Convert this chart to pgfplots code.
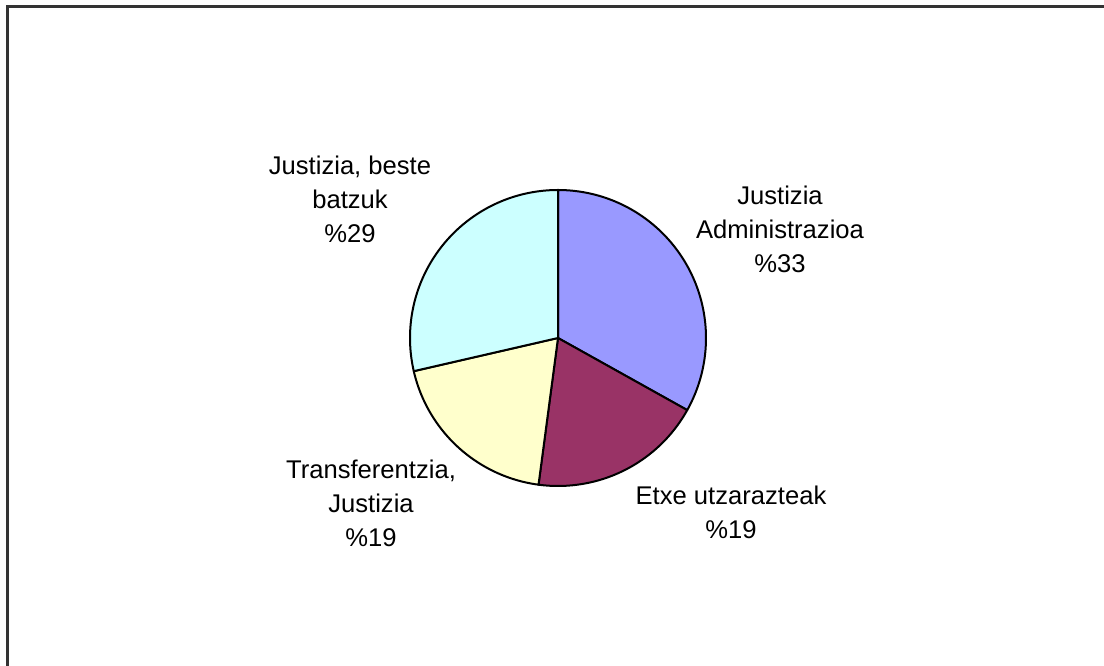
\documentclass[border=0pt]{standalone}
\usepackage{pgfplots}
\pgfplotsset{compat=1.18}
\usepackage{pgfplotstable}
\usepackage{fontspec}
\setmainfont{Liberation Sans}
\definecolor{sliceA}{HTML}{9999FF}
\definecolor{sliceB}{HTML}{993366}
\definecolor{sliceC}{HTML}{FFFFCC}
\definecolor{sliceD}{HTML}{CCFFFF}
\pgfplotstableread{
value color
33.1 sliceA
19.0 sliceB
19.3 sliceC
28.6 sliceD
}\piedata
\begin{document}
\begin{tikzpicture}
\begin{axis}[
  at={(0,0)}, anchor=south west,
  scale only axis, width=1104pt, height=666pt,
  xmin=0, xmax=1104, ymin=0, ymax=666,
  hide axis, clip=false,
]
% frame (left and top edges visible)
\addplot[draw=black!80, line width=2.5pt, mark=none] coordinates {(7.5,0) (7.5,659.5) (1104,659.5)};
\def\cum{0}
\pgfplotsforeachungrouped \i in {0,...,3}{
  \pgfplotstablegetelem{\i}{value}\of\piedata
  \pgfmathsetmacro\b{90-3.6*\cum}
  \pgfmathsetmacro\cum{\cum+\pgfplotsretval}
  \pgfmathsetmacro\a{90-3.6*\cum}
  \pgfplotstablegetelem{\i}{color}\of\piedata
  \edef\tmp{\noexpand\addplot[draw=black, line width=2pt, line join=round, fill=\pgfplotsretval, mark=none, domain=\a:\b, samples=90, variable=\noexpand\t] ({558+148*cos(\noexpand\t)},{328+148*sin(\noexpand\t)}) -- (axis cs:558,328) -- cycle;}
  \tmp
}
\begin{scope}[every node/.style={align=center, font=\fontsize{25.6}{34}\selectfont}]
\node at (axis cs:780,437) {Justizia\\Administrazioa\\\%33};
\node at (axis cs:350,467) {Justizia, beste\\batzuk\\\%29};
\node at (axis cs:371,163) {Transferentzia,\\Justizia\\\%19};
\node at (axis cs:731,154) {Etxe utzarazteak\\\%19};
\end{scope}
\end{axis}
\pgfresetboundingbox
\useasboundingbox (0,0) rectangle (1104pt,666pt);
\end{tikzpicture}
\end{document}
